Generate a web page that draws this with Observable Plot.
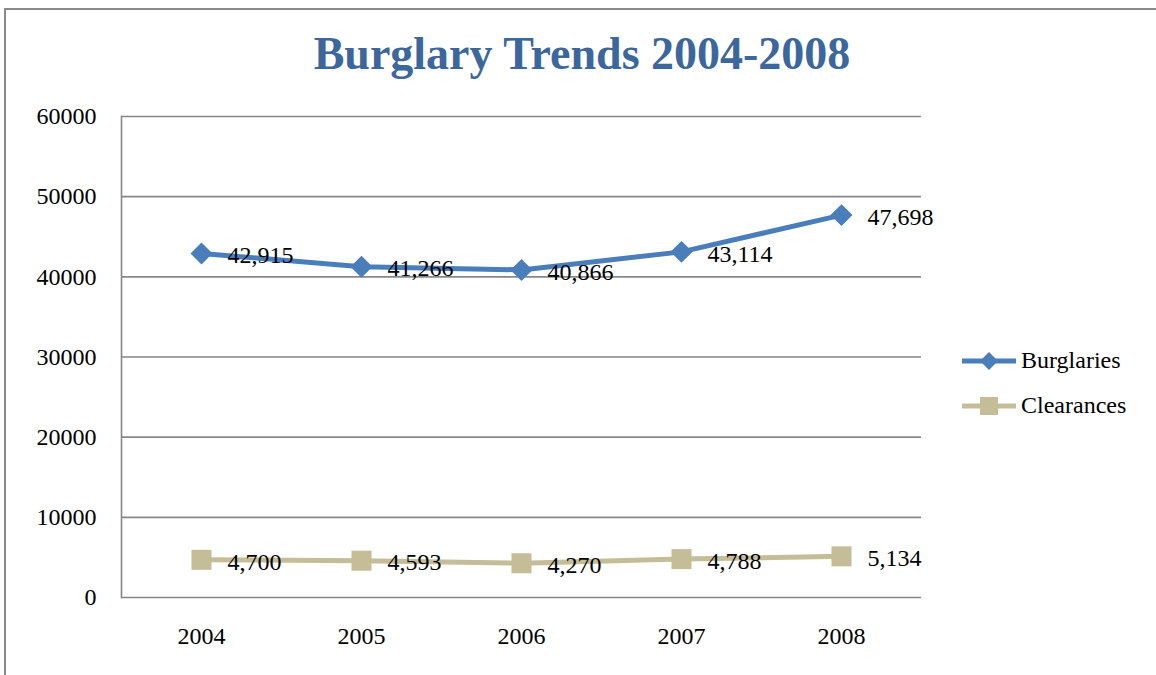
<!DOCTYPE html>
<html>
<head>
<meta charset="utf-8">
<script src="https://cdn.jsdelivr.net/npm/d3@7"></script>
<script src="https://cdn.jsdelivr.net/npm/@observablehq/plot@0.6"></script>
<style>
  html, body { margin: 0; padding: 0; background: #fff; }
  #wrap { position: relative; width: 1156px; height: 675px; overflow: hidden; font-family: "Liberation Serif", serif; }
  #border { position: absolute; left: 4px; top: 8px; right: -10px; bottom: -10px; border-top: 2px solid #8a8a8a; border-left: 2px solid #8a8a8a; }
  #title { position: absolute; left: 0; width: 1164px; top: 31px; line-height: 1; text-align: center; font-weight: bold; font-size: 46px; color: #3c679c; font-family: "Liberation Serif", serif; white-space: nowrap; }
  #chart { position: absolute; left: 0; top: 0; }
  #legend { position: absolute; left: 960px; top: 338px; }
  .item { display: flex; align-items: center; height: 45px; font-size: 24px; color: #000; }
  .item svg { margin-right: 3px; }
</style>
</head>
<body>
<div id="wrap">
  <div id="border"></div>
  <div id="chart"></div>
  <div id="title">Burglary Trends 2004-2008</div>
  <div id="legend"></div>
</div>
<script>
const years = ["2004", "2005", "2006", "2007", "2008"];
const burglaries = [42915, 41266, 40866, 43114, 47698];
const clearances = [4700, 4593, 4270, 4788, 5134];
const seriesNames = ["Burglaries", "Clearances"];
const seriesColors = ["#4a7ebb", "#c4bd97"];
const seriesSymbols = ["diamond2", "square"];
const yTicks = [0, 10000, 20000, 30000, 40000, 50000, 60000];

const data = [];
years.forEach((y, i) => {
  data.push({year: y, value: burglaries[i], series: seriesNames[0]});
  data.push({year: y, value: clearances[i], series: seriesNames[1]});
});
const fmt = d3.format(",");
const font = "Liberation Serif";

const plot = Plot.plot({
  width: 1156,
  height: 675,
  marginLeft: 121,
  marginRight: 235,
  marginTop: 116,
  marginBottom: 78,
  style: {fontFamily: font, background: "transparent", overflow: "visible"},
  x: {type: "point", domain: years, padding: 0.5, label: null},
  y: {domain: [0, 60000], label: null},
  marks: [
    Plot.ruleY(yTicks, {stroke: "#878787", strokeWidth: 1.6, strokeOpacity: 1}),
    Plot.frame({anchor: "left", stroke: "#878787", strokeWidth: 1.6}),
    Plot.axisY({ticks: yTicks, tickSize: 0, tickPadding: 25, tickFormat: d => String(d), fontSize: 24, fill: "#000", label: null}),
    Plot.axisX({tickSize: 0, tickPadding: 29, fontSize: 24, fill: "#000", label: null}),
    ...seriesNames.map((s, k) => Plot.line(data.filter(d => d.series === s), {
      x: "year", y: "value", stroke: seriesColors[k], strokeWidth: 5, curve: "linear"
    })),
    ...seriesNames.map((s, k) => Plot.dot(data.filter(d => d.series === s), {
      x: "year", y: "value", symbol: () => seriesSymbols[k], fill: seriesColors[k], stroke: "none",
      r: k === 0 ? 9.9 : 11.3
    })),
    Plot.text(data, {
      x: "year", y: "value", text: d => fmt(d.value), dx: 26, dy: 2,
      textAnchor: "start", fontSize: 24, fill: "#000", fontFamily: font
    })
  ]
});
document.getElementById("chart").appendChild(plot);

// Legend
const legend = document.getElementById("legend");
seriesNames.forEach((s, k) => {
  const item = document.createElement("div");
  item.className = "item";
  const marker = k === 0
    ? `<path d="M29,6 L38,15 L29,24 L20,15 Z" fill="${seriesColors[k]}"/>`
    : `<rect x="20" y="6" width="18" height="18" fill="${seriesColors[k]}"/>`;
  item.innerHTML = `<svg width="58" height="30"><line x1="2" y1="15" x2="56" y2="15" stroke="${seriesColors[k]}" stroke-width="5"/>${marker}</svg><span>${s}</span>`;
  legend.appendChild(item);
});
</script>
</body>
</html>
